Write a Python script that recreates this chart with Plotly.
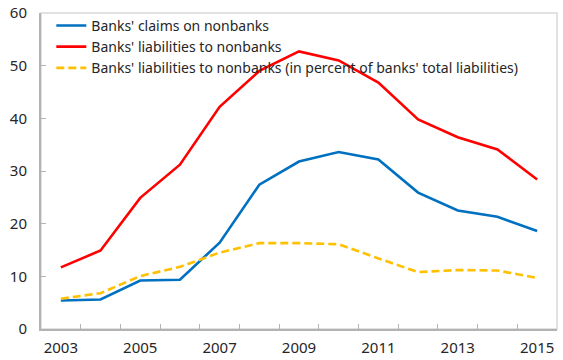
import plotly.graph_objects as go

# Annual observations
years = [2003, 2004, 2005, 2006, 2007, 2008, 2009, 2010, 2011, 2012, 2013, 2014, 2015]
claims = [5.4, 5.6, 9.2, 9.35, 16.4, 27.4, 31.8, 33.6, 32.2, 25.9, 22.5, 21.3, 18.6]
liabilities = [11.7, 14.9, 24.9, 31.2, 42.2, 49.0, 52.7, 51.0, 46.8, 39.8, 36.4, 34.1, 28.4]
liab_share = [5.75, 6.8, 10.05, 11.8, 14.5, 16.3, 16.3, 16.1, 13.4, 10.8, 11.2, 11.1, 9.7]

names = [
    "Banks' claims on nonbanks",
    "Banks' liabilities to nonbanks",
    "Banks' liabilities to nonbanks (in percent of banks' total liabilities)",
]
x_labels = [2003, 2005, 2007, 2009, 2011, 2013, 2015]
y_ticks = [0, 10, 20, 30, 40, 50, 60]

FONT = "Noto Sans"
AXIS = "#b3b3b3"

fig = go.Figure()
fig.add_trace(go.Scatter(x=years, y=claims, name=names[0], mode="lines",
                         line=dict(color="#0070c0", width=2.6)))
fig.add_trace(go.Scatter(x=years, y=liabilities, name=names[1], mode="lines",
                         line=dict(color="#ff0000", width=2.6)))
fig.add_trace(go.Scatter(x=years, y=liab_share, name=names[2], mode="lines",
                         line=dict(color="#ffc000", width=2.6, dash="8px,4px")))

# invisible trace carrying the category-boundary tick marks
boundaries = [y + 0.5 for y in years[:-1]]
fig.add_trace(go.Scatter(x=[years[0]], y=[None], xaxis="x2", showlegend=False,
                         hoverinfo="skip"))

xr = [years[0] - 0.5, years[-1] + 0.5]
fig.update_layout(
    width=563, height=360,
    margin=dict(l=41, r=6, t=13, b=31),
    paper_bgcolor="white", plot_bgcolor="white",
    font=dict(family=FONT, size=13, color="#262626"),
    showlegend=True,
    legend=dict(x=0.02, y=1.01, xanchor="left", yanchor="top",
                bgcolor="rgba(0,0,0,0)", font=dict(size=14, family=FONT),
                tracegroupgap=0, itemwidth=30),
    xaxis=dict(range=xr, tickvals=x_labels, ticks="", showgrid=False,
               zeroline=False, showline=True, linecolor=AXIS, linewidth=2,
               tickfont=dict(size=15), ticklabelstandoff=4, automargin=False),
    xaxis2=dict(range=xr, overlaying="x", anchor="y", tickvals=boundaries,
                ticks="inside", ticklen=5, tickcolor=AXIS, tickwidth=1,
                showticklabels=False, showgrid=False, zeroline=False,
                side="bottom", automargin=False),
    yaxis=dict(range=[0, 60], tickvals=y_ticks, ticks="inside", ticklen=5,
               tickcolor=AXIS, tickwidth=1, showgrid=False, zeroline=False,
               showline=True, linecolor=AXIS, linewidth=2,
               tickfont=dict(size=15), ticklabelstandoff=9, automargin=False),
    shapes=[dict(type="rect", xref="paper", yref="paper", x0=0, x1=1, y0=0, y1=1,
                 line=dict(color="#d9d9d9", width=1.5), layer="below")],
)

fig.write_html("out.html")
